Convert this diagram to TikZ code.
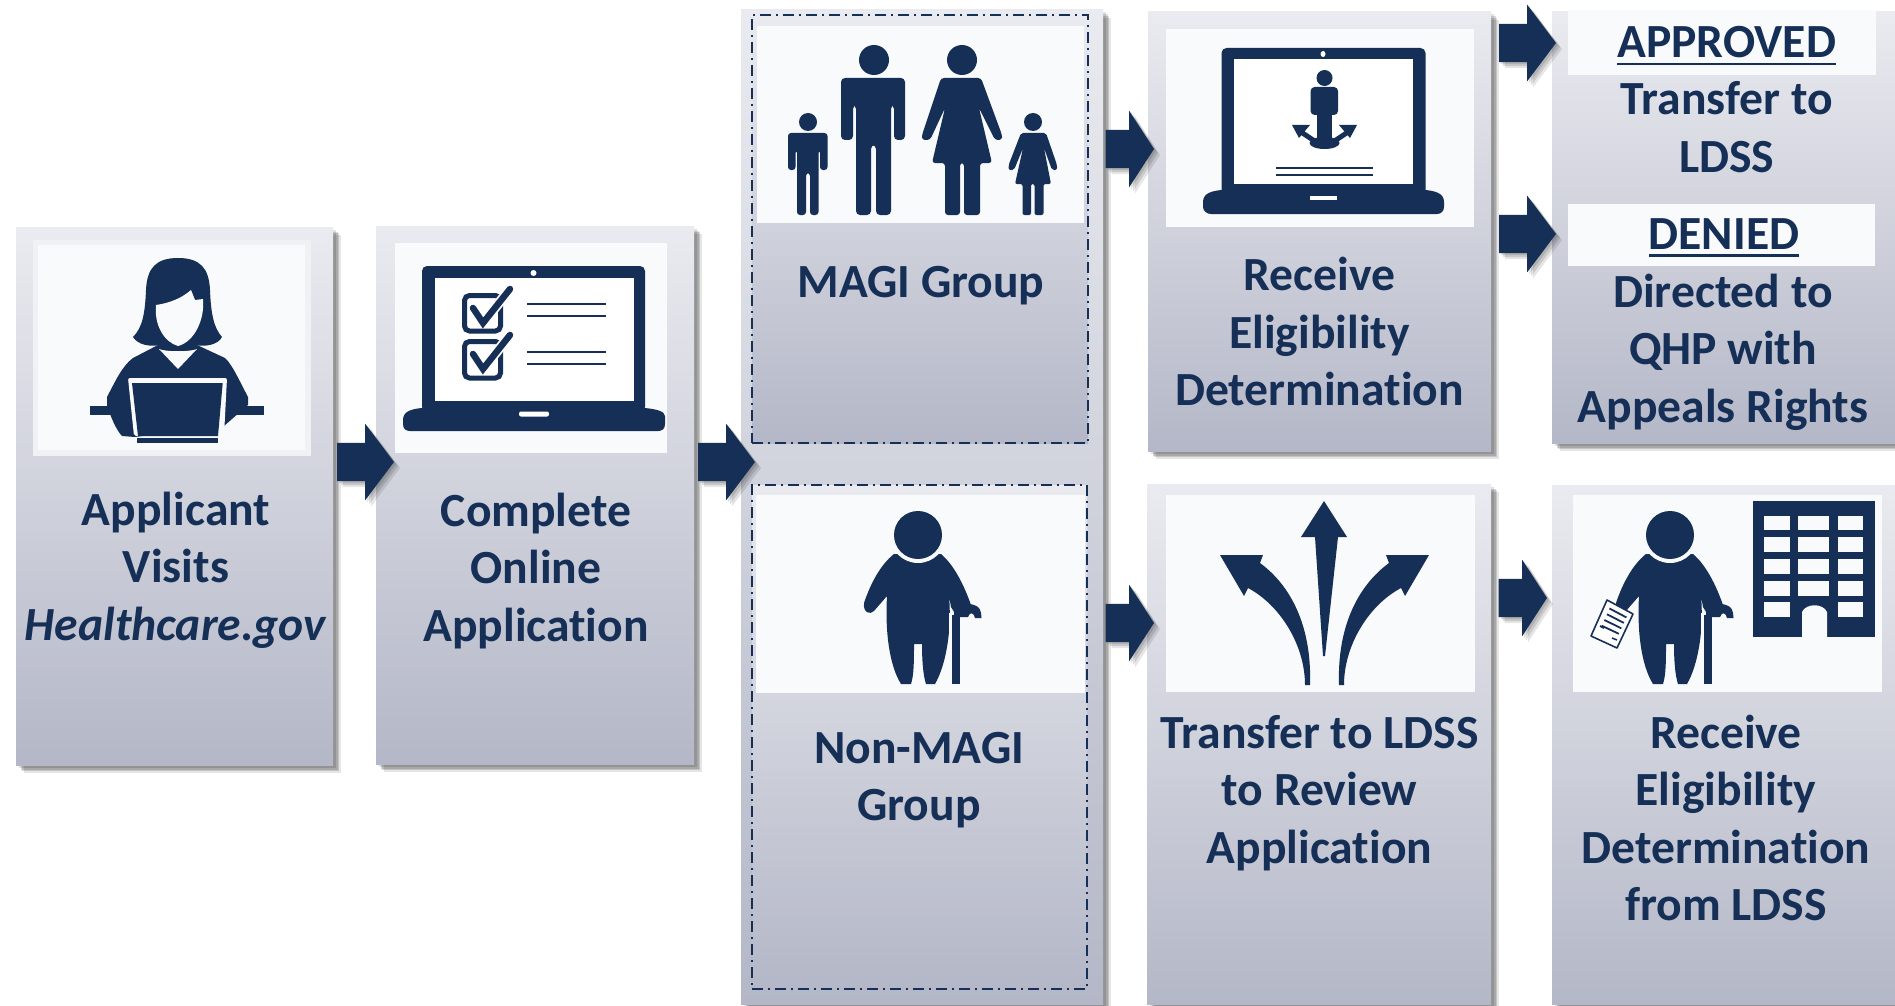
\documentclass[tikz,border=0pt]{standalone}
\usepackage{fontspec}
\setmainfont{Carlito}[BoldFont=Carlito Bold,BoldItalicFont=Carlito Bold Italic,Ligatures=NoCommon]
\usetikzlibrary{shapes.arrows,shadows}
\definecolor{navy}{HTML}{162F56}
\definecolor{band}{HTML}{F9FAFB}
\definecolor{paneltop}{HTML}{EAEBF0}
\definecolor{panelbot}{HTML}{B4B7C7}
\newcommand\ulbl[1]{\setbox0\hbox{#1}\rlap{\copy0}\rule[-7.5pt]{\wd0}{2.6pt}}
\tikzset{
  softshadow/.style={
    general shadow={fill=black,opacity=.12,shadow xshift=2.5pt,shadow yshift=-2.5pt},
    general shadow={fill=black,opacity=.14,shadow xshift=4.5pt,shadow yshift=-4.5pt},
    general shadow={fill=black,opacity=.14,shadow xshift=6pt,shadow yshift=-6pt},
    general shadow={fill=black,opacity=.10,shadow xshift=8pt,shadow yshift=-8pt}},
  arrowshadow/.style={
    general shadow={fill=black,opacity=.12,shadow xshift=2pt,shadow yshift=-2pt},
    general shadow={fill=black,opacity=.12,shadow xshift=4pt,shadow yshift=-4pt},
    general shadow={fill=black,opacity=.10,shadow xshift=6pt,shadow yshift=-6pt}},
  panel/.style={rectangle,anchor=north west,inner sep=0pt,outer sep=0pt,top color=paneltop,bottom color=panelbot,softshadow},
  inset/.style={rectangle,anchor=north west,inner sep=0pt,outer sep=0pt,top color=paneltop,bottom color=panelbot,draw=navy,line width=1.4pt,dash pattern=on 11pt off 5pt on 2pt off 5pt},
  whiteband/.style={rectangle,anchor=north west,inner sep=0pt,outer sep=0pt,fill=band},
  label/.style={font=\fontsize{47.6}{57.5}\selectfont\bfseries,text=navy,align=center,inner sep=0pt,outer sep=0pt,anchor=base},
  arrowbase/.style={single arrow,fill=navy,draw=none,inner xsep=0pt,inner ysep=19pt,outer sep=0pt,anchor=tip,single arrow head extend=19pt,arrowshadow},
  arrowlong/.style={arrowbase,minimum height=57pt,single arrow tip angle=106},
  arrowshort/.style={arrowbase,minimum height=48.5pt,single arrow tip angle=114},
  ico/.style={fill=navy,draw=none},
  icoline/.style={draw=navy,line width=1.7pt},
  hole/.style={fill=band,draw=none},
  oldman/.pic={
    \fill[ico] (-24,19) .. controls (-38,30) and (-48,50) .. (-54,68) .. controls (-55,78) and (-48,80) .. (-44,76) -- (-31,61) .. controls (-33,95) and (-29,130) .. (-17,149) -- (-7,149) .. controls (-4,140) and (-4,125) .. (-4,109) -- (4,109) .. controls (4,125) and (5,140) .. (8,149) -- (17,149) .. controls (28,130) and (34,95) .. (31,61) -- (33,72) -- (38,80) -- (47,76) -- (53,70) .. controls (46,50) and (36,30) .. (23,19) -- cycle;
    \fill[hole] (0,0) circle[radius=28];
    \fill[ico] (0,0) circle[radius=24];
    \fill[hole] (31,100) -- (31,78) -- (33,78) -- (33,100) -- cycle;
    \fill[ico] (34,80) rectangle (42,149);
    \fill[ico] (36,76) .. controls (44,66) and (48,68) .. (56,70) .. controls (62,72) and (63,75) .. (63.5,83) -- (57,83) .. controls (56,78) and (52,76) .. (50,82) -- (42,82) -- (36,82) -- cycle;
  }
}
\begin{document}
\begin{tikzpicture}[x=1pt,y=-1pt]
\useasboundingbox (0,0) rectangle (1895,1006);
\fill[white] (0,0) rectangle (1895,1006);

% panels
\node[panel,minimum width=317pt,minimum height=538pt] (applicant) at (16,227) {};
\node[panel,minimum width=318pt,minimum height=538pt] (complete) at (376,226) {};
\node[panel,minimum width=362pt,minimum height=994pt] (groups) at (741,10) {};
\node[panel,minimum width=343pt,minimum height=439pt] (receive) at (1148,12) {};
\node[panel,minimum width=344pt,minimum height=520pt] (transfer) at (1147,484) {};
\node[panel,minimum width=343pt,minimum height=431pt] (outcome) at (1552,12) {};
\node[panel,minimum width=343pt,minimum height=519pt] (ldss) at (1552,485) {};

\node[inset,minimum width=336pt,minimum height=428pt] (magi) at (752,15) {};
\node[inset,minimum width=335pt,minimum height=504pt] (nonmagi) at (752,485) {};

% white bands
\node[whiteband,fill=paneltop!60!band,minimum width=278pt,minimum height=216pt] (frameA) at (33,240) {};
\node[whiteband,minimum width=267pt,minimum height=205pt] (bandA) at (38,245) {};
\node[whiteband,minimum width=272pt,minimum height=210pt] (bandB) at (395,243) {};
\node[whiteband,minimum width=327pt,minimum height=197pt] (bandC) at (757,26) {};
\node[whiteband,minimum width=329pt,minimum height=198pt] (bandN) at (756,495) {};
\node[whiteband,minimum width=308pt,minimum height=198pt] (bandD) at (1166,29) {};
\node[whiteband,minimum width=309pt,minimum height=197pt] (bandF) at (1166,495) {};
\node[whiteband,minimum width=308pt,minimum height=65pt] (bandE1) at (1568,10) {};
\node[whiteband,minimum width=307pt,minimum height=62pt] (bandE2) at (1568,204) {};
\node[whiteband,minimum width=309pt,minimum height=197pt] (bandG) at (1573,495) {};

% block arrows
\node[arrowlong] (arr1) at (394,462) {};
\node[arrowlong] (arr2) at (755,462) {};
\node[arrowshort] (arr3) at (1154,149) {};
\node[arrowshort] (arr6) at (1154,623) {};
\node[arrowlong] (arr4) at (1556,43) {};
\node[arrowlong] (arr5) at (1556,234) {};
\node[arrowshort] (arr7) at (1547,598) {};

% labels (the anchor is the baseline of the last line)
\node[label] (tA) at (176,640) {Applicant\\Visits\\\textit{Healthcare.gov}};
\node[label] (tB) at (536,641) {Complete\\Online\\Application};
\node[label] (tC) at (921,297) {MAGI Group};
\node[label] (tN) at (919,820.5) {Non-MAGI\\Group};
\node[label] (tD) at (1319.5,405.5) {Receive\\Eligibility\\Determination};
\node[label] (tF) at (1319.5,863) {Transfer to LDSS\\to Review\\Application};
\node[label] (tE1) at (1726.7,58) {\ulbl{APPROVED}};
\node[label] (tE1b) at (1726.7,172) {Transfer to\\LDSS};
\node[label] (tE2) at (1724,249) {\ulbl{DENIED}};
\node[label] (tE2b) at (1723,422) {Directed to\\QHP with\\Appeals Rights};
\node[label] (tG) at (1726,920.5) {Receive\\Eligibility\\Determination\\from LDSS};

% icon: woman at laptop
\fill[ico] (90,406) rectangle (264,415);
\fill[ico] (178,258) .. controls (200,258) and (209,268) .. (210,290) .. controls (211,315) and (214,328) .. (222,337) .. controls (218,345) and (205,347) .. (195,345) -- (160,345) .. controls (150,347) and (138,345) .. (133,337) .. controls (142,328) and (145,315) .. (146,290) .. controls (147,268) and (156,258) .. (178,258) -- cycle;
\fill[ico] (158,345) -- (197,345) -- (225,358) .. controls (232,364) and (240,382) .. (248,397) -- (248,405) -- (224,426) -- (135,437) -- (122,436) .. controls (116,430) and (110,415) .. (107,405) -- (107,397) .. controls (115,382) and (122,366) .. (133,358) -- cycle;
\fill[hole] (156,305) .. controls (170,303) and (182,298) .. (191,290) -- (195,300) -- (203,299) .. controls (205,320) and (194,342) .. (178,346) .. controls (164,342) and (154,325) .. (156,305) -- cycle;
\fill[hole] (159,349) .. controls (166,352) and (190,352) .. (197,349) -- (178,369) -- cycle;
\fill[hole,rounded corners=2pt] (128,378) -- (227,378) -- (224,436) -- (134,436) -- cycle;
\fill[ico] (132,383) -- (222.7,383) -- (218,436) -- (138,436) -- cycle;
\fill[ico] (137,438) rectangle (218,443);

% icon: laptop with checklist
\fill[ico,rounded corners=5pt] (422,412) -- (422,266) -- (645,266) -- (645,412) -- cycle;
\fill[ico] (422,408) .. controls (412,409) and (403,411) .. (403,420) -- (403,424) .. controls (403,429) and (406,431) .. (410,431) -- (658,431) .. controls (662,431) and (665,429) .. (665,424) -- (665,416) .. controls (665,411) and (655,409) .. (645,408) -- cycle;
\fill[white] (435,278) rectangle (634,401);
\fill[white] (533.5,273) circle[radius=3];
\fill[white,rounded corners=2pt] (519,411.5) rectangle (549,416.5);
\draw[navy,line width=5pt,rounded corners=5pt] (464.5,295.5) rectangle (500.5,331);
\draw[navy,line width=5pt,rounded corners=5pt] (464.5,341.5) rectangle (500.5,378);
\draw[white,line width=10pt,line cap=round] (483,323) -- (510,289);
\draw[white,line width=10pt,line cap=round] (483,369) -- (510,335);
\draw[navy,line width=6.5pt,line cap=round,line join=miter] (473,308) -- (483,323) -- (510,289);
\draw[navy,line width=6.5pt,line cap=round,line join=miter] (473,354) -- (483,369) -- (510,335);
\draw[icoline] (527,304) -- (606,304);
\draw[icoline] (527,316) -- (606,316);
\draw[icoline] (527,352) -- (606,352);
\draw[icoline] (527,364) -- (606,364);

% icon: family
\fill[ico] (808,122) ellipse[x radius=9,y radius=9];
\fill[ico,rounded corners=3pt] (788,170) -- (788,133) -- (827.5,133) -- (827.5,170) -- (820,170) -- (820,150) -- (818.5,150) -- (818.5,215) -- (810,215) -- (810,173) -- (806,173) -- (806,215) -- (797,215) -- (797,150) -- (795.5,150) -- (795.5,170) -- cycle;
\fill[ico] (874,60) circle[radius=15];
\fill[ico,rounded corners=4pt] (841,140) -- (841,78) -- (905,78) -- (905,140) -- (894,140) -- (894,105) -- (891,105) -- (891,215) -- (876,215) -- (876,145) -- (871,145) -- (871,215) -- (856,215) -- (856,105) -- (853,105) -- (853,140) -- cycle;
\fill[ico] (962,60) ellipse[x radius=15,y radius=15];
\fill[ico,rounded corners=3pt] (941,78) -- (981,78) -- (1002,135) -- (1002,140) -- (995,140) -- (979,108) -- (992,163) -- (980,163) -- (980,215) -- (964,215) -- (964,163) -- (960,163) -- (960,215) -- (945,215) -- (945,163) -- (932,163) -- (945,108) -- (930,140) -- (922,140) -- (922,135) -- cycle;
\fill[ico] (1033,122) ellipse[x radius=9,y radius=9];
\fill[ico,rounded corners=2pt] (1021,133) -- (1046,133) -- (1057,165) -- (1057,170) -- (1052,170) -- (1044,148) -- (1051,184) -- (1043.5,184) -- (1043.5,215) -- (1034.5,215) -- (1034.5,184) -- (1031,184) -- (1031,215) -- (1022.5,215) -- (1022.5,184) -- (1015,184) -- (1023,148) -- (1014,170) -- (1008.6,170) -- (1008.6,165) -- cycle;

% icon: elderly person
\pic at (918,535) {oldman};

% icon: laptop with person and arrows
\fill[ico,rounded corners=5pt] (1221.5,195) -- (1221.5,48) -- (1425.5,48) -- (1425.5,195) -- cycle;
\fill[ico] (1221.5,190) .. controls (1212,191) and (1203,193) .. (1203,202) -- (1203,207) .. controls (1203,211) and (1207,214) .. (1211,214) -- (1437,214) .. controls (1441,214) and (1444,211) .. (1444,207) -- (1444,202) .. controls (1444,193) and (1435,191) .. (1425.5,190) -- cycle;
\fill[white] (1234,59) rectangle (1412.6,184);
\fill[white] (1323,54) ellipse[x radius=2.5,y radius=3];
\fill[white] (1310,196) rectangle (1337,200);
\fill[ico] (1324.5,78) ellipse[x radius=8,y radius=8];
\fill[ico,rounded corners=4pt] (1310.6,87) rectangle (1338,115);
\fill[ico] (1317,112) rectangle (1332,140);
\fill[ico] (1324.5,143) ellipse[x radius=15,y radius=6];
\draw[navy,line width=5pt] (1322,146) -- (1298,130);
\draw[navy,line width=5pt] (1327,146) -- (1351,130);
\fill[ico] (1292,125) -- (1310,125) -- (1299,138) -- cycle;
\fill[ico] (1357,125) -- (1339,125) -- (1350,138) -- cycle;
\draw[icoline] (1276,168) -- (1373,168);
\draw[icoline] (1276,175) -- (1373,175);

% icon: three arrows
\fill[ico] (1220,555) -- (1263,555) -- (1260,563) .. controls (1290,585) and (1312,625) .. (1310,685) -- (1305,685) .. controls (1305,645) and (1280,605) .. (1248,588) -- (1244,596) -- cycle;
\fill[ico] (1429,555) -- (1386,555) -- (1389,563) .. controls (1359,585) and (1337,625) .. (1339,685) -- (1344,685) .. controls (1344,645) and (1369,605) .. (1401,588) -- (1405,596) -- cycle;
\fill[ico] (1324,501) -- (1347,537) -- (1338,537) -- (1325,656) -- (1323,656) -- (1315,537) -- (1301,537) -- cycle;

% icon: elderly person with papers, and building
\pic at (1670,535) {oldman};
\fill[white,draw=navy,line width=1.6pt,line join=round] (1607,600) -- (1633,614) -- (1617,648) -- (1591,636) -- cycle;
\foreach \t in {.16,.32,.48,.64}
  \draw[navy,line width=1.8pt] ({1607-16*\t+5},{600+36*\t+2.7}) -- ({1633-16*\t-4},{614+34*\t-2});
\draw[navy,line width=2pt] (1600,626) -- (1604,628);
\draw[navy,line width=1.5pt] (1612,638) -- (1617,640);
\fill[ico] (1753,501) rectangle (1875,637);
\foreach \c/\d in {1764/1790,1798/1829,1838/1863}
  \foreach \a/\b in {516/530,537/552,559/574,581/595.5}
    \fill[hole] (\c,\a) rectangle (\d,\b);
\fill[hole] (1764,602) rectangle (1790,617);
\fill[hole] (1838,602) rectangle (1863,617);
\fill[hole] (1802,637) -- (1802,612) .. controls (1806,603) and (1823,603) .. (1827,612) -- (1827,637) -- cycle;
\end{tikzpicture}
\end{document}
